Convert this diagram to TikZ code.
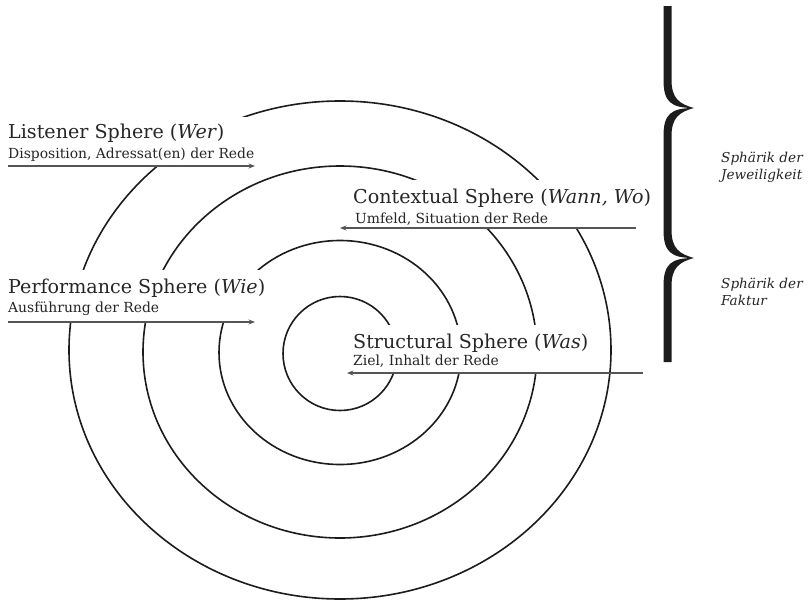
\documentclass[tikz,border=0pt]{standalone}
\usepackage{fontspec}
\setmainfont{DejaVu Serif}
\usetikzlibrary{arrows.meta}
\definecolor{ink}{HTML}{1C1C1C}
\definecolor{textgray}{HTML}{262626}
\definecolor{arrowgray}{HTML}{555555}
\begin{document}
\begin{tikzpicture}[x=1pt,y=-1pt,
  sphere/.style={draw=ink,line width=1.6pt},
  mask/.style={fill=white},
  title/.style={anchor=base west,inner sep=0pt,text=textgray,font=\fontsize{19.1}{21}\selectfont},
  subtitle/.style={anchor=base west,inner sep=0pt,text=textgray,font=\fontsize{13.9}{15}\selectfont},
  side/.style={anchor=base west,inner sep=0pt,text=textgray,font=\fontsize{13.6}{15}\selectfont\itshape},
  pointer/.style={draw=arrowgray,line width=1.1pt,-{Stealth[length=6.5pt,width=5pt]}},
]
\useasboundingbox (0,0) rectangle (811,605);

% the four nested spheres
\draw[sphere] (340,353.5) ellipse [x radius=57pt,  y radius=57pt];
\draw[sphere] (340,352.5) ellipse [x radius=121pt, y radius=112pt];
\draw[sphere] (340,352)   ellipse [x radius=197pt, y radius=186pt];
\draw[sphere] (340,350)   ellipse [x radius=271pt, y radius=249pt];

% white panels behind the labels
\fill[mask] (0,117) rectangle (262,166);
\fill[mask] (0,270) rectangle (271,322);
\fill[mask] (345,180) rectangle (658,228);
\fill[mask] (350,325) rectangle (598,373);

% labels
\node[title]    (wer)      at (8,138)   {Listener Sphere (\textit{Wer})};
\node[subtitle] (wer-sub)  at (8,158)   {Disposition, Adressat(en) der Rede};
\node[title]    (wie)      at (8,293)   {Performance Sphere (\textit{Wie})};
\node[subtitle] (wie-sub)  at (8,312)   {Ausführung der Rede};
\node[title]    (wann)     at (353,203) {Contextual Sphere (\textit{Wann, Wo})};
\node[subtitle] (wann-sub) at (355,223) {Umfeld, Situation der Rede};
\node[title]    (was)      at (353,348) {Structural Sphere (\textit{Was})};
\node[subtitle] (was-sub)  at (353,365) {Ziel, Inhalt der Rede};

% pointers
\coordinate (wer-from)  at (8,166);   \coordinate (wer-to)  at (255,166);
\coordinate (wie-from)  at (8,322);   \coordinate (wie-to)  at (255,322);
\coordinate (wann-from) at (636,228); \coordinate (wann-to) at (340,228);
\coordinate (was-from)  at (643,373); \coordinate (was-to)  at (347,373);
\draw[pointer] (wer-from)  -- (wer-to);
\draw[pointer] (wie-from)  -- (wie-to);
\draw[pointer] (wann-from) -- (wann-to);
\draw[pointer] (was-from)  -- (was-to);

% the double brace
\fill[ink] (663.5,6) -- (671.5,6) -- (671.5,80)
  .. controls (671.5,98) and (679,104) .. (694,108)
  .. controls (679,112) and (671.5,118) .. (671.5,136)
  -- (671.5,230)
  .. controls (671.5,248) and (679,254) .. (694,258)
  .. controls (679,262) and (671.5,268) .. (671.5,286)
  -- (671.5,362) -- (663.5,362) -- (663.5,286)
  .. controls (663.5,264) and (671,258) .. (694,258)
  .. controls (671,258) and (663.5,252) .. (663.5,230)
  -- (663.5,136)
  .. controls (663.5,114) and (671,108) .. (694,108)
  .. controls (671,108) and (663.5,102) .. (663.5,80)
  -- cycle;

% brace captions
\node[side] (jew-a) at (721,162) {Sphärik der};
\node[side] (jew-b) at (721,179) {Jeweiligkeit};
\node[side] (fak-a) at (721,288) {Sphärik der};
\node[side] (fak-b) at (721,305) {Faktur};
\end{tikzpicture}
\end{document}
